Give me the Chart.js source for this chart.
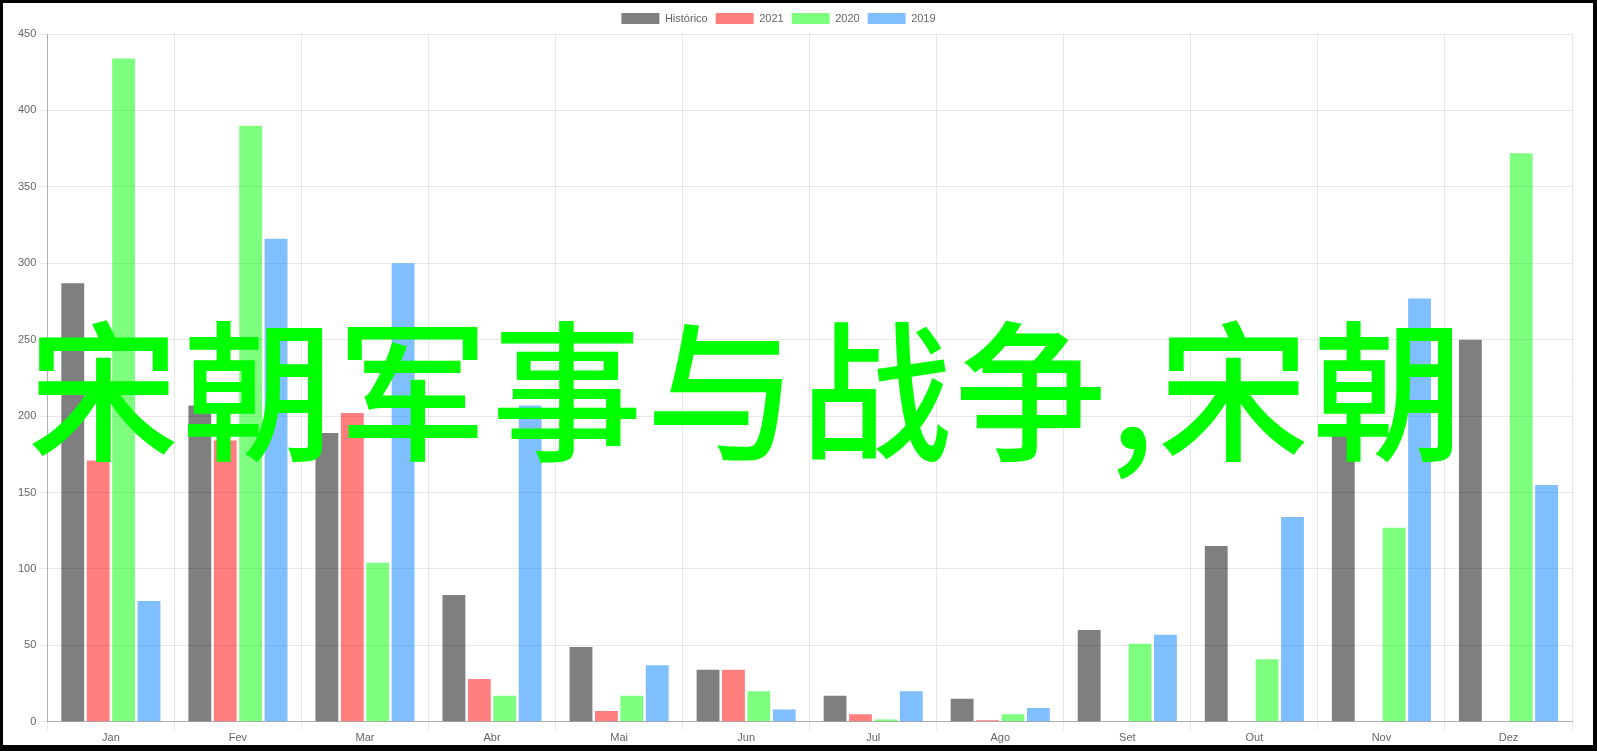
<!DOCTYPE html>
<html>
<head>
<meta charset="utf-8">
<title>宋朝军事与战争</title>
<script src="https://cdn.jsdelivr.net/npm/chart.js@4.4.0/dist/chart.umd.min.js"></script>
<style>
  html, body { margin: 0; padding: 0; background: #000; }
  body { width: 1597px; height: 751px; position: relative; overflow: hidden; }
  #frame { position: absolute; left: 3px; top: 3px; width: 1590px; height: 742px; background: #fff; }
  #frame canvas { position: absolute; left: 0; top: 0; }
  #headline {
    position: absolute; left: 28px; top: 308px;
    font-family: "Noto Sans CJK SC", sans-serif; font-weight: 500;
    font-size: 151px; line-height: 1; letter-spacing: 3.5px;
    color: #00ff00; white-space: nowrap;
  }
</style>
</head>
<body>
<div id="frame">
  <canvas id="chart" width="1590" height="744"></canvas>
</div>
<div id="headline">宋朝军事与战争,宋朝</div>
<script>
// months and the four yearly series
const months = ["Jan", "Fev", "Mar", "Abr", "Mai", "Jun", "Jul", "Ago", "Set", "Out", "Nov", "Dez"];
const historico = [287, 207, 189, 83, 49, 34, 17, 15, 60, 115, 191, 250];
const y2021 = [171, 184, 202, 28, 7, 34, 5, 1, 0, 0, 0, 0];
const y2020 = [434, 390, 104, 17, 17, 20, 1.5, 5, 51, 41, 127, 372];
const y2019 = [79, 316, 300, 207, 37, 8, 20, 9, 57, 134, 277, 155];
const seriesNames = ["Histórico", "2021", "2020", "2019"];

const colors = ["rgba(0,0,0,0.5)", "rgba(255,0,0,0.5)", "rgba(0,255,0,0.5)", "rgba(0,128,255,0.5)"];

Chart.defaults.font.family = "'Liberation Sans', Arial, sans-serif";
Chart.defaults.font.size = 11;
Chart.defaults.color = "#666";

const allSeries = [historico, y2021, y2020, y2019];

// the legend in the picture sits a bit left of centre
const legendNudge = {
  id: "legendNudge",
  beforeDraw(chart) {
    const lg = chart.legend;
    if (lg && !lg._nudged) {
      lg.left -= 15;
      lg.right -= 15;
      lg._nudged = true;
    }
  },
};

new Chart(document.getElementById("chart"), {
  type: "bar",
  data: {
    labels: months,
    datasets: allSeries.map((values, i) => ({
      label: seriesNames[i],
      data: values,
      backgroundColor: colors[i],
      borderColor: colors[i],
      borderWidth: 0,
      categoryPercentage: 0.8,
      barPercentage: 0.9,
    })),
  },
  options: {
    responsive: false,
    animation: false,
    devicePixelRatio: 1,
    layout: { padding: { left: 12, right: 21, top: 2, bottom: 0 } },
    plugins: {
      legend: {
        position: "top",
        labels: { boxWidth: 38, boxHeight: 11, padding: 8 },
      },
      tooltip: { enabled: false },
    },
    scales: {
      x: {
        grid: { color: "rgba(0,0,0,0.09)", offset: true, tickLength: 8 },
        border: { color: "rgba(0,0,0,0.25)" },
        ticks: { padding: 2 },
      },
      y: {
        min: 0,
        max: 450,
        ticks: { stepSize: 50, padding: 3 },
        grid: { color: "rgba(0,0,0,0.09)", tickLength: 8 },
        border: { color: "rgba(0,0,0,0.25)" },
      },
    },
  },
  plugins: [legendNudge],
});
</script>
</body>
</html>
